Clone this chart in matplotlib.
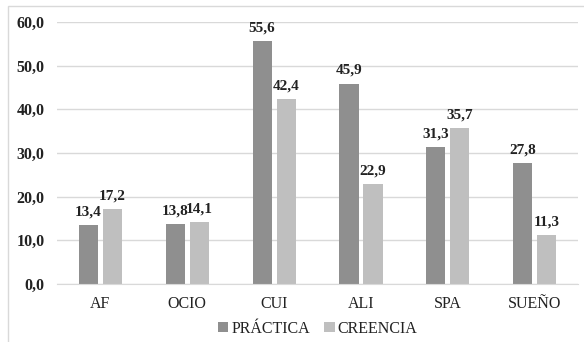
import numpy as np
import matplotlib.pyplot as plt
from matplotlib.patches import Rectangle

# data
categorias = ["AF", "OCIO", "CUI", "ALI", "SPA", "SUEÑO"]
practica = [13.4, 13.8, 55.6, 45.9, 31.3, 27.8]
creencia = [17.2, 14.1, 42.4, 22.9, 35.7, 11.3]

plt.rcParams['font.family'] = ['Liberation Serif', 'DejaVu Serif']

fig = plt.figure(figsize=(5.84, 3.42), dpi=100)
ax = fig.add_axes([0.0976, 0.1696, 0.8924, 0.7661])

# outer chart frame
fig.patches.append(Rectangle((0.014, -0.01), 0.99, 0.992, transform=fig.transFigure,
                             fill=False, edgecolor='#d9d9d9', lw=1))

x = np.arange(len(categorias))
w = 0.22
off = 0.138
b1 = ax.bar(x - off, practica, w, color='#8f8f8f', label='PRÁCTICA')
b2 = ax.bar(x + off, creencia, w, color='#bfbfbf', label='CREENCIA')

for bars in (b1, b2):
    for r in bars:
        ax.text(r.get_x() + r.get_width() / 2, r.get_height() + 1.5,
                f"{r.get_height():.1f}".replace('.', ','),
                ha='center', va='bottom', fontsize=11, fontweight='bold', color='#222222')

ax.set_xlim(-0.5, len(categorias) - 0.5)
ax.set_ylim(0, 60)
ax.set_yticks(range(0, 61, 10))
ax.set_yticklabels([f"{v},0" for v in range(0, 61, 10)], fontsize=11.5, fontweight='bold', color='#222222')
ax.set_xticks(x)
ax.set_xticklabels(categorias, fontsize=11.5, color='#222222')
ax.tick_params(length=0)
ax.tick_params(axis='y', pad=9)
ax.tick_params(axis='x', pad=9)
ax.grid(axis='y', color='#d9d9d9', lw=1)
ax.set_axisbelow(True)
for s in ['top', 'right', 'left']:
    ax.spines[s].set_visible(False)
ax.spines['bottom'].set_color('#d9d9d9')

ax.legend(loc='upper center', bbox_to_anchor=(0.5, -0.085), ncol=2, frameon=False,
          fontsize=11.5, handlelength=0.65, handleheight=0.65, handletextpad=0.2,
          columnspacing=0.9, labelcolor='#222222')

fig.savefig('out.png', dpi=100)
